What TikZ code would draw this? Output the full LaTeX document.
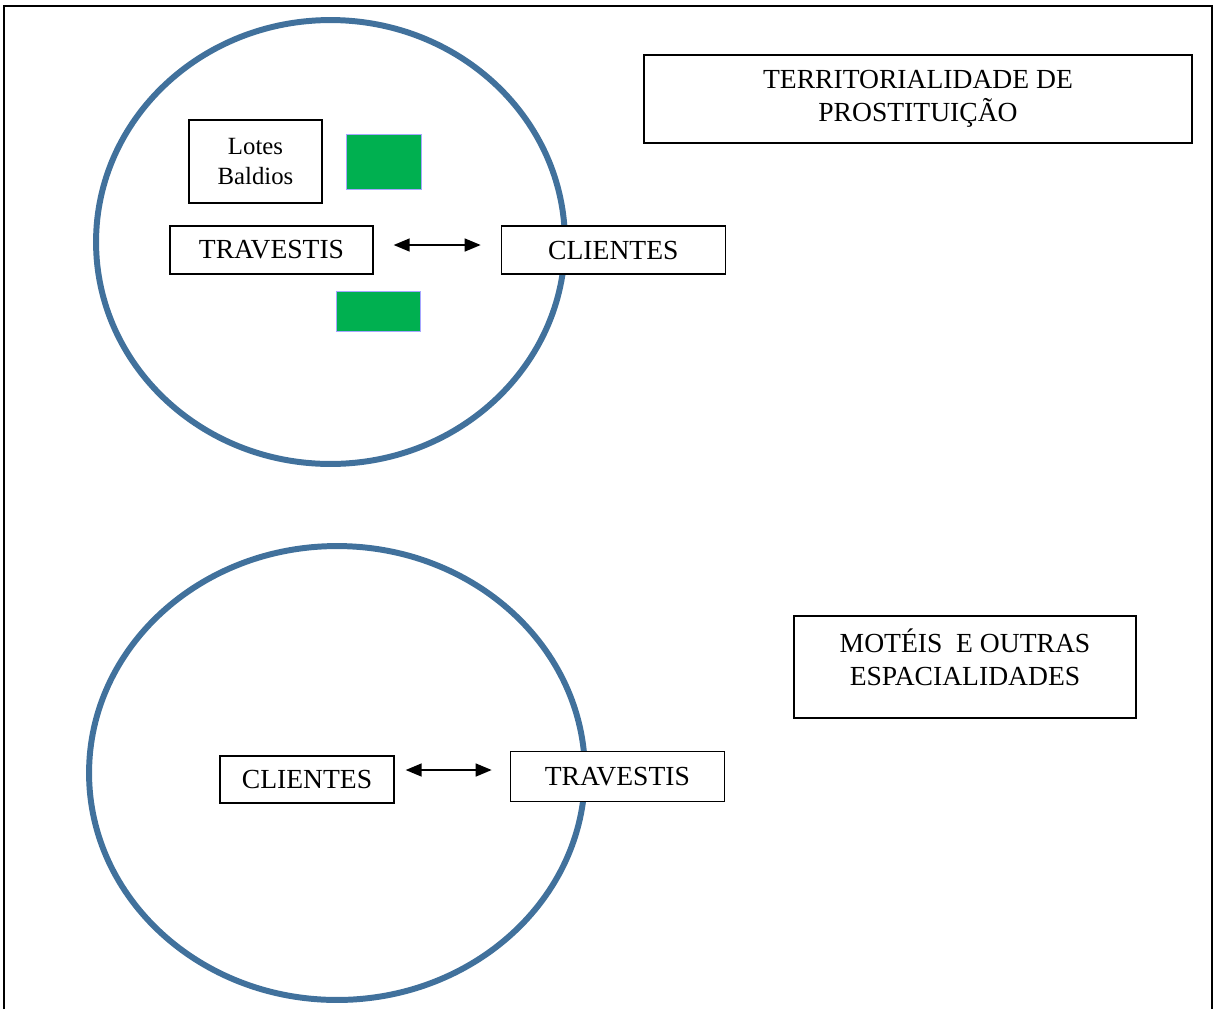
\documentclass[tikz,border=0pt]{standalone}
\usepackage{fontspec}
\setmainfont{Liberation Serif}
\usetikzlibrary{arrows.meta,positioning}

\definecolor{ringblue}{HTML}{41719C}
\definecolor{lotgreen}{HTML}{00B050}

\begin{document}
\begin{tikzpicture}[
    x=0.02cm, y=-0.02cm,
    label/.style={rectangle, draw, fill=white, line width=0.8pt, inner sep=0pt, text centered, font=\fontsize{15.7}{18.8}\selectfont},
    lot/.style={rectangle, draw=blue!35, line width=0.4pt, fill=lotgreen, inner sep=0pt},
    ring/.style={draw=ringblue, line width=3.4pt},
    arrow/.style={{Triangle[length=0.32cm,width=0.26cm]}-{Triangle[length=0.32cm,width=0.26cm]}, line width=0.85pt}
]
    \useasboundingbox (0,0) rectangle (1214,1009);
    % page frame, open at the bottom
    \draw[line width=1.2pt] (4,1009) -- (4,6) -- (1212,6) -- (1212,1009);

    % upper territory
    \draw[ring] (330.5,242) ellipse [x radius=4.69cm, y radius=4.44cm];
    \node[label, minimum width=10.96cm, minimum height=1.76cm, align=center] (territ) at (918,99) {TERRITORIALIDADE DE\\PROSTITUIÇÃO};
    \node[label, minimum width=2.66cm, minimum height=1.66cm, align=center, font=\fontsize{14.1}{17}\selectfont] (lotes) at (255.5,161.5) {Lotes\\Baldios};
    \node[lot, minimum width=1.5cm, minimum height=1.1cm] (lotA) at (383.5,161.5) {};
    \node[lot, minimum width=1.68cm, minimum height=0.8cm] (lotB) at (378,311) {};
    \node[label, minimum width=4.06cm, minimum height=0.96cm] (trav1) at (271.5,250) {TRAVESTIS};
    \node[label, minimum width=4.48cm, minimum height=0.96cm, right=2.54cm of trav1] (cli1) {CLIENTES};

    \draw[arrow, shorten <=0.4cm, shorten >=0.4cm] ([yshift=0.1cm]trav1.east) -- ([yshift=0.1cm]cli1.west);

    % lower territory
    \draw[ring] (337,773) ellipse [x radius=4.96cm, y radius=4.54cm];
    \node[label, minimum width=6.84cm, minimum height=2.04cm, align=center] (moteis) at (965,667) {MOTÉIS \ E OUTRAS\\ESPACIALIDADES\\[-8pt]\mbox{}};
    \node[label, minimum width=3.48cm, minimum height=0.94cm] (cli2) at (307,779.5) {CLIENTES};
    \node[label, minimum width=4.28cm, minimum height=1.0cm, right=2.3cm of cli2, yshift=0.06cm] (trav2) {TRAVESTIS};

    \draw[arrow, shorten <=0.22cm, shorten >=0.36cm] ([yshift=0.19cm]cli2.east) -- ([yshift=0.19cm]cli2.east -| trav2.west);
\end{tikzpicture}
\end{document}
